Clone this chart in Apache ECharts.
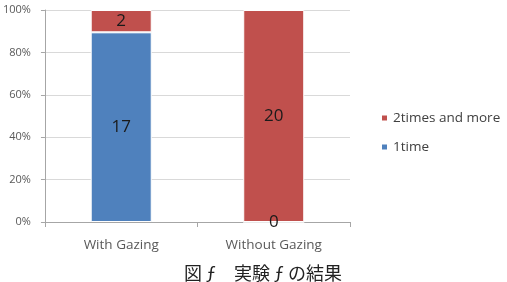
<!DOCTYPE html>
<html><head><meta charset="utf-8">
<script src="https://cdn.jsdelivr.net/npm/echarts@6/dist/echarts.min.js"></script>
<style>html,body{margin:0;padding:0;background:#fff}#c{width:507px;height:282px}</style>
</head><body><div id="c"></div>
<script>
const categories = ['With Gazing', 'Without Gazing'];
const oneTime = [17, 0];
const twoTimesMore = [2, 20];
const yTicks = ['0%', '20%', '40%', '60%', '80%', '100%'];
const caption = '図 ƒ　実験 ƒ の結果';

const totals = categories.map((_, i) => oneTime[i] + twoTimesMore[i]);
const pct = (arr) => arr.map((v, i) => ({ value: v / totals[i] * 100, count: v }));

const chart = echarts.init(document.getElementById('c'));
const font = 'Open Sans, Liberation Sans, sans-serif';
chart.setOption({
  animation: false,
  grid: { left: 43, right: 157, top: 10, bottom: 60 },
  legend: {
    orient: 'vertical', left: 375, top: 106, itemWidth: 7, itemHeight: 7, itemGap: 15,
    icon: 'rect', data: ['2times and more', '1time'],
    textStyle: { fontFamily: font, fontSize: 13.5, color: '#404040' }
  },
  xAxis: {
    type: 'category', data: categories,
    axisLine: { lineStyle: { color: '#a6a6a6' } },
    axisTick: { show: true, length: 5, lineStyle: { color: '#a6a6a6' } },
    axisLabel: { fontFamily: font, fontSize: 13.5, color: '#595959', margin: 16 }
  },
  yAxis: {
    type: 'value', min: 0, max: 100, interval: 20,
    axisLine: { show: true, lineStyle: { color: '#a6a6a6' } },
    axisTick: { show: true, length: 4, lineStyle: { color: '#a6a6a6' } },
    splitLine: { lineStyle: { color: '#d9d9d9' } },
    axisLabel: { fontFamily: font, fontSize: 11, color: '#595959', margin: 14,
      formatter: (v) => yTicks[Math.round(v / 20)] }
  },
  series: [
    { name: '1time', type: 'bar', stack: 's', barWidth: '40%', data: pct(oneTime),
      itemStyle: { color: '#4F81BD', borderColor: '#fff', borderWidth: 1 },
      label: { show: true, position: 'inside', fontFamily: font, fontSize: 17, color: '#1a1a1a',
        formatter: (p) => p.data.count } },
    { name: '2times and more', type: 'bar', stack: 's', barWidth: '40%', data: pct(twoTimesMore),
      itemStyle: { color: '#C0504D', borderColor: '#fff', borderWidth: 1 },
      label: { show: true, position: 'inside', fontFamily: font, fontSize: 17, color: '#1a1a1a',
        formatter: (p) => p.data.count } }
  ],
  graphic: [{
    type: 'text', left: 184, top: 264,
    style: { text: caption, fontFamily: 'Noto Sans CJK JP', fontSize: 18, fill: '#222' }
  }]
});
</script></body></html>
